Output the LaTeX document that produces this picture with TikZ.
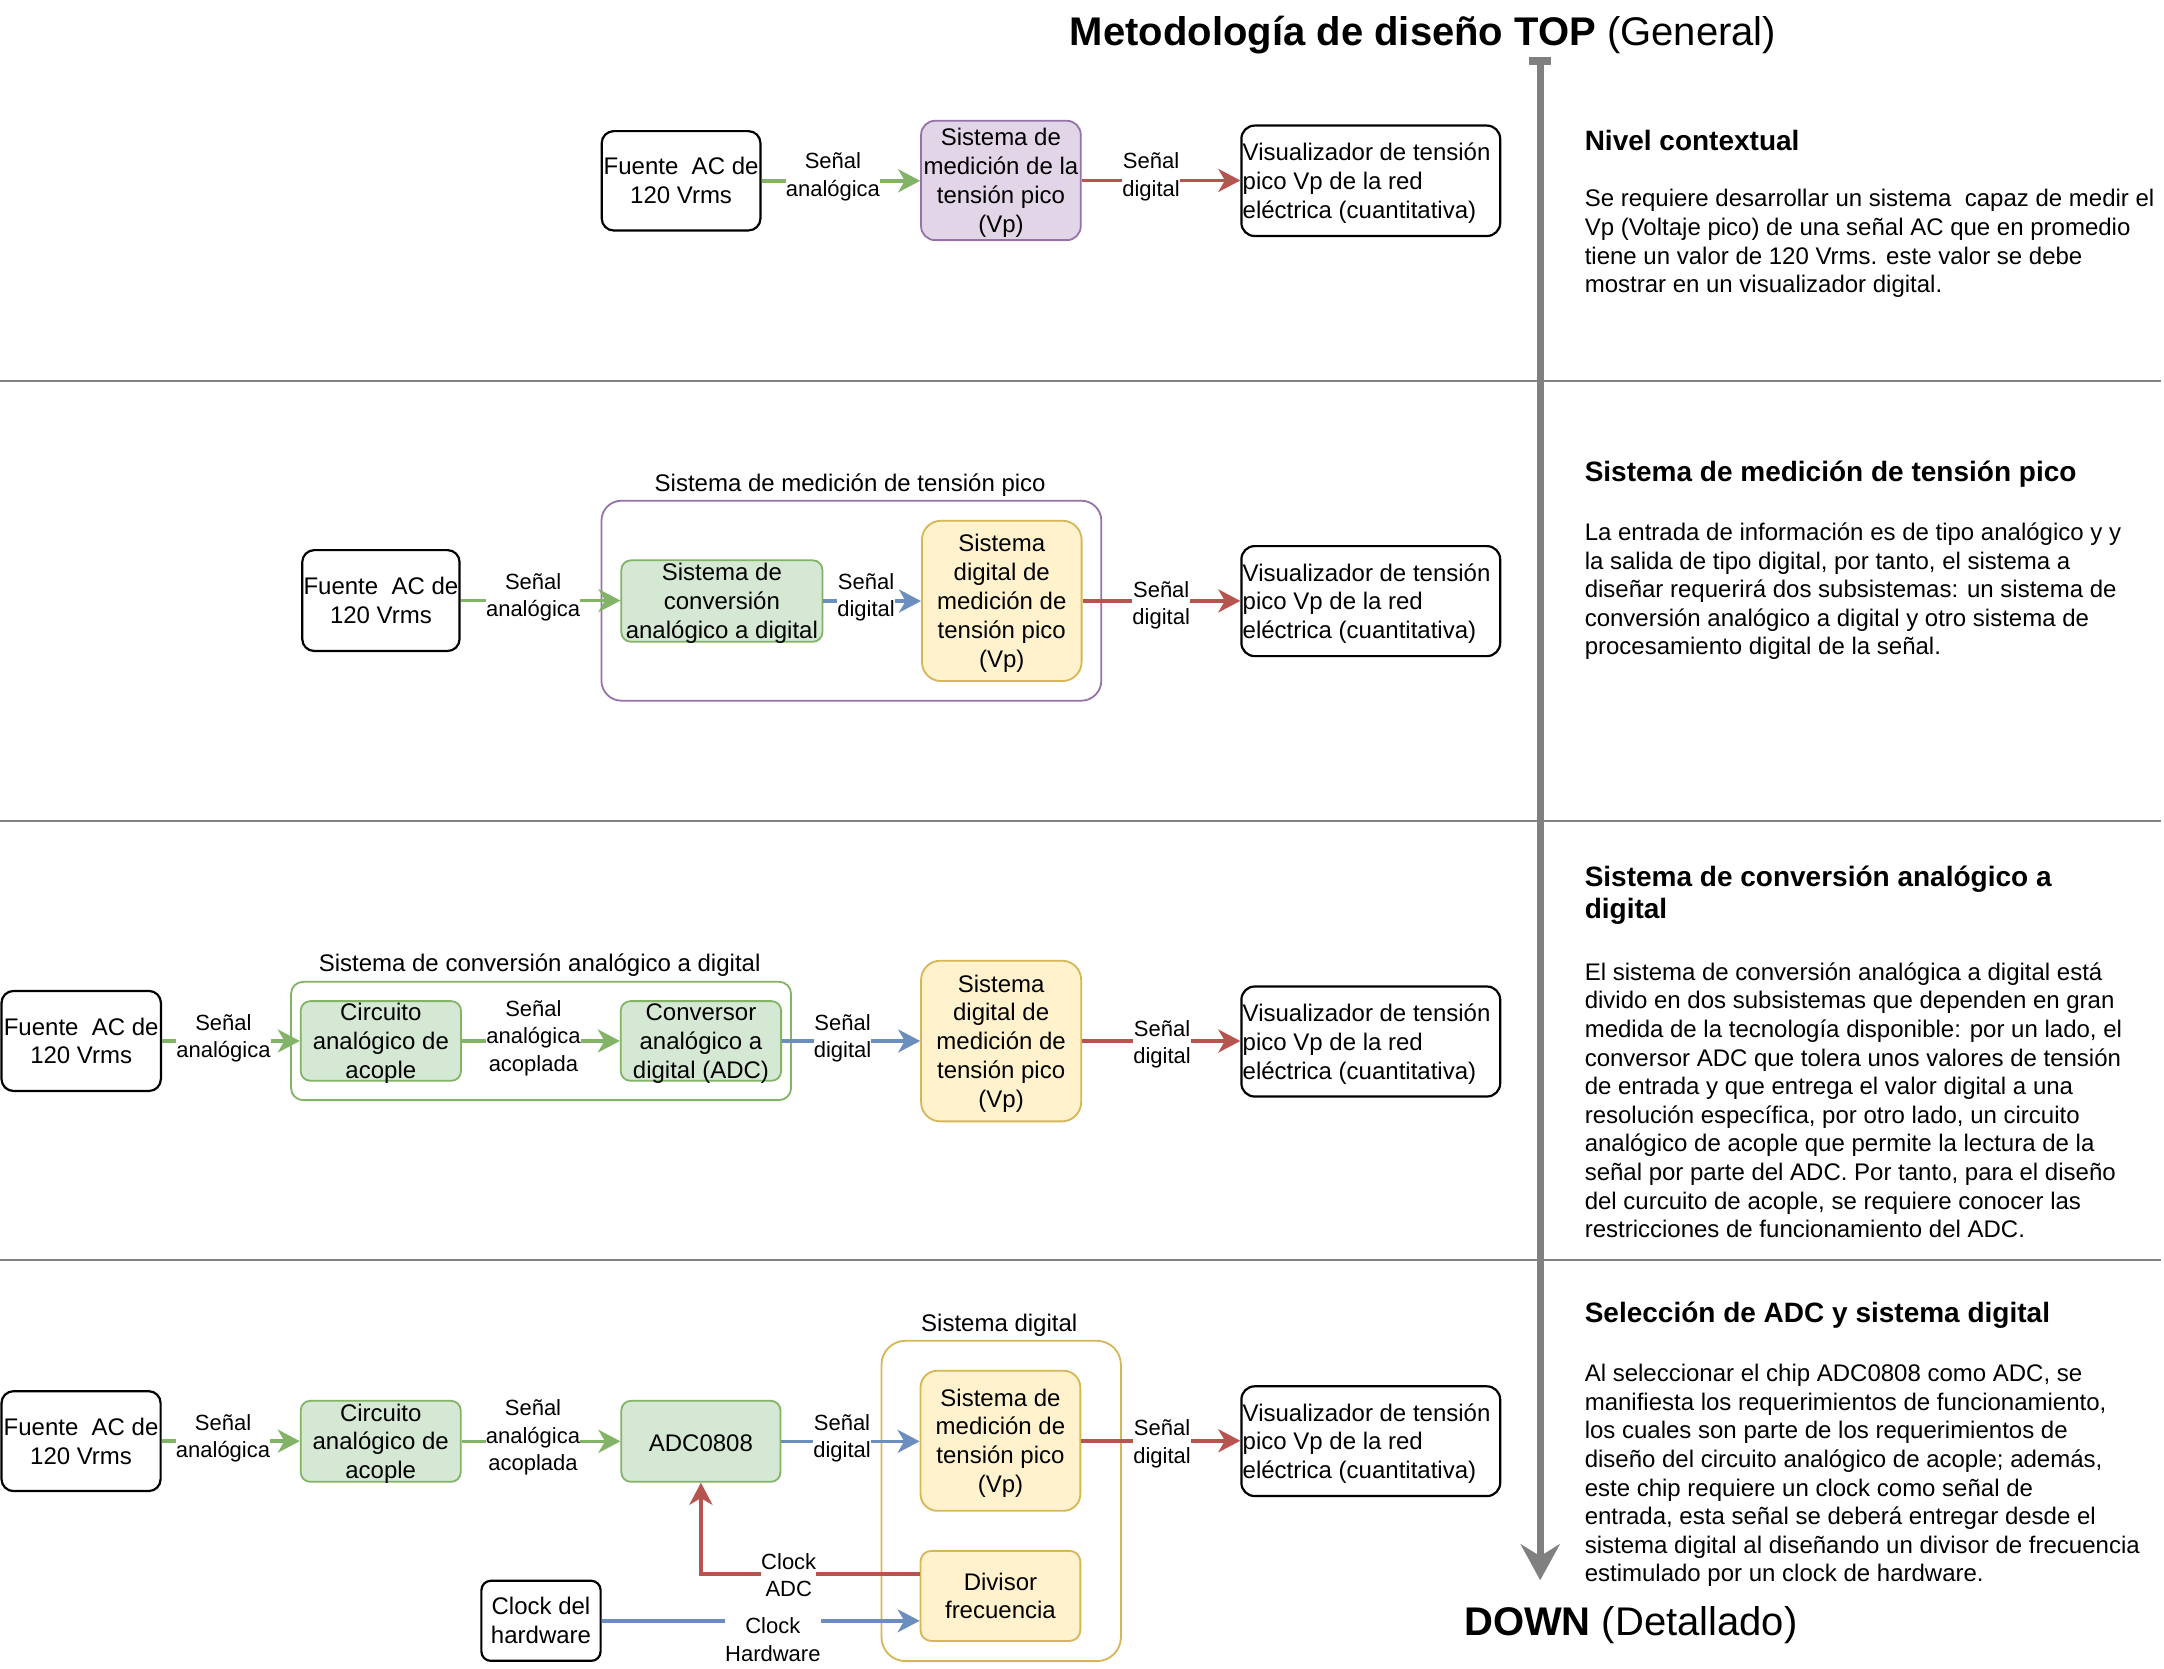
\documentclass[tikz,border=0pt]{standalone}
\usepackage{fontspec}
\setmainfont{Liberation Sans}
\usetikzlibrary{arrows.meta,fit}
\definecolor{gfill}{HTML}{D5E8D4}
\definecolor{gline}{HTML}{82B366}
\definecolor{yfill}{HTML}{FFF2CC}
\definecolor{yline}{HTML}{D6B656}
\definecolor{pfill}{HTML}{E1D5E7}
\definecolor{pline}{HTML}{9673A6}
\definecolor{bline}{HTML}{6C8EBF}
\definecolor{rline}{HTML}{B85450}
\definecolor{agray}{HTML}{808080}
\begin{document}
\begin{tikzpicture}[x=0.69pt,y=-0.69pt,
 blk/.style={inner sep=0pt, draw=black, line width=1.1pt},
 gbox/.style={inner sep=0pt, draw=gline, fill=gfill, line width=0.9pt},
 ybox/.style={inner sep=0pt, draw=yline, fill=yfill, line width=0.9pt},
 pbox/.style={inner sep=0pt, draw=pline, fill=pfill, line width=0.9pt},
 cont/.style={inner sep=0pt, line width=0.9pt},
 btxt/.style={font=\fontsize{12}{14.4}\selectfont, align=center, inner sep=0pt, yshift=-2.1pt, execute at begin node=\strut, execute at end node=\strut},
 vtxt/.style={btxt, align=left, anchor=west},
 lbl/.style={font=\fontsize{11}{13.7}\selectfont, align=center, inner sep=0pt, fill=white, execute at begin node=\strut, execute at end node=\strut},
 ctxt/.style={font=\fontsize{12}{14.4}\selectfont, inner sep=0pt, execute at begin node=\strut},
 head/.style={font=\fontsize{14}{15.7}\selectfont\bfseries, align=left, anchor=north west, inner sep=0pt, execute at begin node=\strut},
 body/.style={font=\fontsize{12}{14.3}\selectfont, align=left, anchor=north west, inner sep=0pt, execute at begin node=\strut},
 conn/.style={line width=1.8pt, -{Stealth[length=11pt,width=11.5pt,inset=3.3pt]}},
 ga/.style={conn, draw=gline}, ba/.style={conn, draw=bline}, ra/.style={conn, draw=rline},
 sepline/.style={draw=agray, line width=0.7pt},
]
\fill[white] (0,0) rectangle (1568,1209);
\useasboundingbox (0,0) rectangle (1568,1209);

% separators
\draw[sepline] (0,276) -- (1566,276);
\draw[sepline] (0,595) -- (1566,595);
\draw[sepline] (0,913) -- (1566,913);

% big vertical arrow
\coordinate (atop) at (1116,44);
\coordinate (abot) at (1116,1145);
\draw[draw=agray, line width=3.6pt, -{Stealth[length=18pt,width=19.5pt,inset=6pt]}] (atop) -- (abot);
\fill[agray] (1108,41) rectangle (1124,47);

% titles
\node[anchor=base west, font=\fontsize{20}{24}\selectfont, inner sep=0pt] (title) at (775,33.3) {\textbf{Metodología de diseño TOP} (General)};
\node[anchor=base west, font=\fontsize{20}{24}\selectfont, inner sep=0pt] (down) at (1060.6,1185.2) {\textbf{DOWN} (Detallado)};

% right column
\node[head] (h1) at (1148,93.0) {Nivel contextual};
\node[body] (b1) at (1148,137.0) {Se requiere desarrollar un sistema~ capaz de medir el\\Vp (Voltaje pico) de una señal AC que en promedio\\tiene un valor de 120 Vrms. este valor se debe\\mostrar en un visualizador digital.};
\node[head] (h2) at (1148,332.8) {Sistema de medición de tensión pico};
\node[body] (b2) at (1148,378.5) {La entrada de información es de tipo analógico y y\\la salida de tipo digital, por tanto, el sistema a\\diseñar requerirá dos subsistemas: un sistema de\\conversión analógico a digital y otro sistema de\\procesamiento digital de la señal.};
\node[head] (h3) at (1148,627.3) {Sistema de conversión analógico a\\digital};
\node[body] (b3) at (1148,697.2) {El sistema de conversión analógica a digital está\\divido en dos subsistemas que dependen en gran\\medida de la tecnología disponible: por un lado, el\\conversor ADC que tolera unos valores de tensión\\de entrada y que entrega el valor digital a una\\resolución específica, por otro lado, un circuito\\analógico de acople que permite la lectura de la\\señal por parte del ADC. Por tanto, para el diseño\\del curcuito de acople, se requiere conocer las\\restricciones de funcionamiento del ADC.};
\node[head] (h4) at (1148,941.8) {Selección de ADC y sistema digital};
\node[body] (b4) at (1148,988.2) {Al seleccionar el chip ADC0808 como ADC, se\\manifiesta los requerimientos de funcionamiento,\\los cuales son parte de los requerimientos de\\diseño del circuito analógico de acople; además,\\este chip requiere un clock como señal de\\entrada, esta señal se deberá entregar desde el\\sistema digital al diseñando un divisor de frecuencia\\estimulado por un clock de hardware.};

% ---------- Row 1
\node[blk, fit={(436,95) (551,167)}, rounded corners=6pt] (f1) {};
\node[btxt] (f1t) at (f1) {Fuente\ \ AC de\\120 Vrms};
\node[pbox, fit={(667.4,87.5) (783.1,174)}, rounded corners=7pt] (p1) {};
\node[btxt] (p1t) at (p1) {Sistema de\\medición de la\\tensión pico\\(Vp)};
\node[blk, fit={(899.5,91) (1087,171)}, rounded corners=6.6pt] (v1) {};
\node[vtxt] (v1t) at ([xshift=1pt]v1.west) {Visualizador de tensión\\pico Vp de la red\\eléctrica (cuantitativa)};
\draw[ga] (f1.east) -- (f1.east -| p1.west) node[lbl] (l1a) at (603.5,129.5) {Señal\\analógica};
\draw[ra] (p1.east) -- (p1.east -| v1.west) node[lbl] (l1b) at (834,129.5) {Señal\\digital};

% ---------- Row 2
\node[ctxt] (c2l) at (616,352) {Sistema de medición de tensión pico};
\node[cont, draw=pline, fit={(435.8,362.8) (798,507.7)}, rounded corners=10pt] (c2) {};
\node[blk, fit={(219,398.6) (333,471.7)}, rounded corners=6pt] (f2) {};
\node[btxt] (f2t) at (f2) {Fuente\ \ AC de\\120 Vrms};
\node[gbox, fit={(450.2,406) (595.9,465)}, rounded corners=4.8pt] (g2) {};
\node[btxt] (g2t) at (g2) {Sistema de\\conversión\\analógico a digital};
\node[ybox, fit={(668,377.3) (783.7,493.5)}, rounded corners=9.6pt] (y2) {};
\node[btxt] (y2t) at (y2) {Sistema\\digital de\\medición de\\tensión pico\\(Vp)};
\node[blk, fit={(899.5,395.7) (1087,475.4)}, rounded corners=6.6pt] (v2) {};
\node[vtxt] (v2t) at ([xshift=1pt]v2.west) {Visualizador de tensión\\pico Vp de la red\\eléctrica (cuantitativa)};
\draw[ga] (f2.east) -- (f2.east -| g2.west) node[lbl] (l2a) at (386.3,434) {Señal\\analógica};
\draw[ba] (g2.east) -- (g2.east -| y2.west) node[lbl] (l2b) at (627.5,434) {Señal\\digital};
\draw[ra] (y2.east) -- (y2.east -| v2.west) node[lbl] (l2c) at (841.4,440) {Señal\\digital};

% ---------- Row 3
\node[ctxt] (c3l) at (391,699.6) {Sistema de conversión analógico a digital};
\node[cont, draw=gline, fit={(210.9,711.4) (573.2,797.1)}, rounded corners=6pt] (c3) {};
\node[blk, fit={(1.1,718) (116.6,790.5)}, rounded corners=6pt] (f3) {};
\node[btxt] (f3t) at (f3) {Fuente\ \ AC de\\120 Vrms};
\node[gbox, fit={(217.9,725.4) (334,783.1)}, rounded corners=4.8pt] (g3a) {};
\node[btxt] (g3at) at (g3a) {Circuito\\analógico de\\acople};
\node[gbox, fit={(449.8,725.4) (566,783.1)}, rounded corners=4.8pt] (g3b) {};
\node[btxt] (g3bt) at (g3b) {Conversor\\analógico a\\digital (ADC)};
\node[ybox, fit={(667.4,696.1) (783.4,812.5)}, rounded corners=9.6pt] (y3) {};
\node[btxt] (y3t) at (y3) {Sistema\\digital de\\medición de\\tensión pico\\(Vp)};
\node[blk, fit={(899.5,714.8) (1087,794.5)}, rounded corners=6.6pt] (v3) {};
\node[vtxt] (v3t) at ([xshift=1pt]v3.west) {Visualizador de tensión\\pico Vp de la red\\eléctrica (cuantitativa)};
\draw[ga] (f3.east) -- (f3.east -| g3a.west) node[lbl] (l3a) at (161.9,753.5) {Señal\\analógica};
\draw[ga] (g3a.east) -- (g3a.east -| g3b.west) node[lbl] (l3b) at (386.5,753.5) {Señal\\analógica\\acoplada};
\draw[ba] (g3b.east) -- (g3b.east -| y3.west) node[lbl] (l3c) at (610.5,753.5) {Señal\\digital};
\draw[ra] (y3.east) -- (y3.east -| v3.west) node[lbl] (l3d) at (842,758) {Señal\\digital};

% ---------- Row 4
\node[ctxt] (c4l) at (724,960.5) {Sistema digital};
\node[cont, draw=yline, fit={(638.7,971.5) (812.2,1203.6)}, rounded corners=12pt] (c4) {};
\node[blk, fit={(1.1,1008) (116.4,1080.4)}, rounded corners=6pt] (f4) {};
\node[btxt] (f4t) at (f4) {Fuente\ \ AC de\\120 Vrms};
\node[gbox, fit={(217.9,1015) (333.8,1073.7)}, rounded corners=4.8pt] (g4a) {};
\node[btxt] (g4at) at (g4a) {Circuito\\analógico de\\acople};
\node[gbox, fit={(450.2,1015) (565.5,1073.7)}, rounded corners=4.8pt] (adc) {};
\node[btxt] (adct) at (adc) {ADC0808};
\node[ybox, fit={(667,993.2) (782.8,1094.7)}, rounded corners=8.4pt] (y4) {};
\node[btxt] (y4t) at (y4) {Sistema de\\medición de\\tensión pico\\(Vp)};
\node[ybox, fit={(667,1123.7) (782.8,1189)}, rounded corners=5.4pt] (d4) {};
\node[btxt] (d4t) at (d4) {Divisor\\frecuencia};
\node[blk, fit={(899.5,1004.5) (1087,1084)}, rounded corners=6.6pt] (v4) {};
\node[vtxt] (v4t) at ([xshift=1pt]v4.west) {Visualizador de tensión\\pico Vp de la red\\eléctrica (cuantitativa)};
\node[blk, fit={(348.8,1145.4) (435.2,1203.4)}, rounded corners=4.7pt] (clk) {};
\node[btxt] (clkt) at (clk) {Clock del\\hardware};
\draw[ga] (f4.east) -- (f4.east -| g4a.west) node[lbl] (l4a) at (161.6,1043.3) {Señal\\analógica};
\draw[ga] (g4a.east) -- (g4a.east -| adc.west) node[lbl] (l4b) at (386.2,1043) {Señal\\analógica\\acoplada};
\draw[ba] (adc.east) -- (adc.east -| y4.west) node[lbl] (l4c) at (610.1,1043.3) {Señal\\digital};
\draw[ra] (y4.east) -- (y4.east -| v4.west) node[lbl] (l4d) at (842,1047.5) {Señal\\digital};
\draw[ra] ([yshift=10.9pt]d4.west) -| (adc.south) node[lbl] (lcadc) at (571.5,1144) {Clock\\ADC};
\draw[ba] (clk.east) -- (clk.east -| d4.west) node[lbl] (lchw) at (560,1191) {Clock\\Hardware};
\end{tikzpicture}
\end{document}
